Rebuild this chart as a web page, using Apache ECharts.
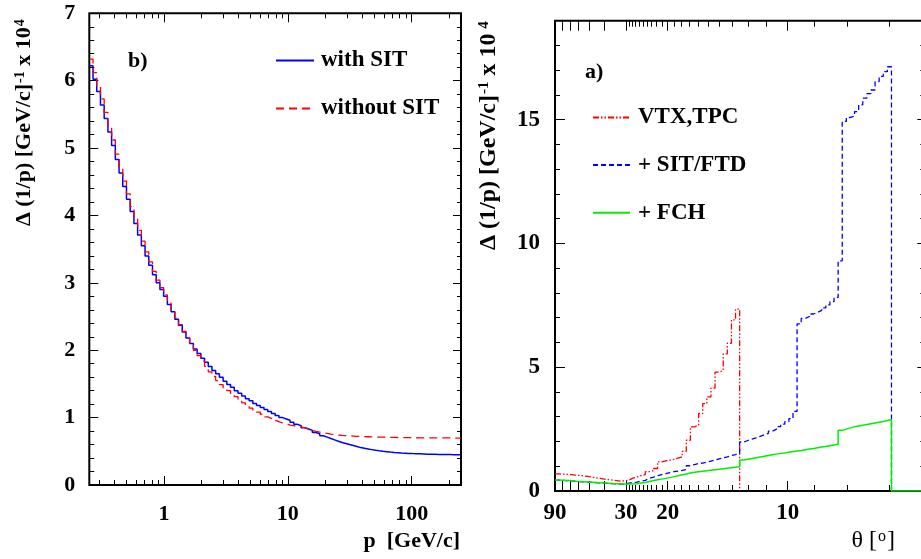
<!DOCTYPE html>
<html><head><meta charset="utf-8">
<script src="https://cdn.jsdelivr.net/npm/echarts@6/dist/echarts.min.js"></script>
<style>html,body{margin:0;padding:0;background:#fff}#c{width:921px;height:559px}</style>
</head><body><div id="c"></div>
<script>
// ---------- Panel b): Δ(1/p) vs p  (histogram bins uniform in log10 p) ----------
const pBinLog0 = -0.602;      // log10 of first bin edge (p = 0.25 GeV/c)
const pBinLogStep = 0.03;     // bin width in log10 p
const withSIT = [
  6.22,6.02,5.84,5.64,5.44,5.24,5.04,4.83,4.63,4.43,
  4.24,4.06,3.88,3.71,3.55,3.40,3.26,3.12,3.00,2.90,
  2.80,2.68,2.57,2.46,2.37,2.27,2.18,2.10,2.02,1.95,
  1.88,1.82,1.76,1.70,1.65,1.60,1.54,1.49,1.45,1.40,
  1.36,1.32,1.28,1.25,1.21,1.18,1.15,1.12,1.09,1.06,
  1.03,1.00,0.98,0.96,0.93,0.90,0.88,0.85,0.83,0.81,
  0.78,0.76,0.73,0.71,0.69,0.67,0.65,0.63,0.615,0.60,
  0.585,0.57,0.555,0.545,0.535,0.525,0.515,0.507,0.50,0.494,
  0.488,0.483,0.479,0.475,0.472,0.469,0.466,0.464,0.462,0.46,
  0.458,0.456,0.455,0.454,0.453,0.452,0.451,0.45,0.45,0.449
];
const withoutSIT = [
  6.32,6.12,5.93,5.73,5.53,5.33,5.12,4.91,4.71,4.51,
  4.32,4.13,3.95,3.78,3.62,3.46,3.31,3.17,3.04,2.93,
  2.82,2.70,2.59,2.48,2.38,2.28,2.18,2.09,2.00,1.92,
  1.84,1.76,1.68,1.61,1.55,1.49,1.44,1.40,1.35,1.31,
  1.26,1.22,1.18,1.14,1.11,1.08,1.05,1.01,0.99,0.96,
  0.94,0.92,0.91,0.89,0.88,0.87,0.86,0.85,0.83,0.81,
  0.795,0.785,0.775,0.765,0.755,0.748,0.742,0.737,0.733,0.729,
  0.726,0.723,0.72,0.718,0.716,0.714,0.712,0.71,0.709,0.708,
  0.707,0.706,0.705,0.704,0.703,0.702,0.702,0.701,0.70,0.70,
  0.70,0.70,0.699,0.699,0.698,0.698,0.698,0.697,0.697,0.697
];
const pMajorTicks = [1, 10, 100];
const pMinorTicks = [0.3,0.4,0.5,0.6,0.7,0.8,0.9,2,3,4,5,6,7,8,9,20,30,40,50,60,70,80,90,200];
const bYMajor = [0,1,2,3,4,5,6,7];
const bYMinor = [0.2,0.4,0.6,0.8,1.2,1.4,1.6,1.8,2.2,2.4,2.6,2.8,3.2,3.4,3.6,3.8,4.2,4.4,4.6,4.8,5.2,5.4,5.6,5.8,6.2,6.4,6.6,6.8];

// ---------- Panel a): Δ(1/p) vs θ  (x axis linear in cot θ, bins of 0.1 in cot θ) ----------
const cotBinStep = 0.1;
const vtxTpc = [
  0.69,0.68,0.67,0.66,0.64,0.63,0.61,0.59,0.56,0.53,
  0.51,0.48,0.46,0.44,0.42,0.40,0.41,0.44,0.52,0.57,
  0.62,0.66,0.78,0.82,0.91,1.18,1.22,1.25,1.28,1.33,
  1.38,1.60,2.05,2.59,2.66,3.13,3.53,3.80,4.16,4.80,
  4.87,5.54,5.97,6.91,7.35
];
const plusSitFtd = [
  0.44,0.43,0.42,0.41,0.39,0.38,0.37,0.36,0.35,0.34,
  0.33,0.32,0.31,0.30,0.29,0.28,0.28,0.32,0.34,0.36,
  0.40,0.43,0.51,0.56,0.62,0.66,0.70,0.74,0.78,0.80,
  0.83,0.87,1.02,1.07,1.11,1.13,1.17,1.21,1.25,1.30,
  1.34,1.38,1.43,1.47,1.52,1.98,2.04,2.10,2.15,2.21,
  2.27,2.33,2.42,2.50,2.60,2.70,2.80,2.92,3.22,6.75,
  6.97,7.05,7.15,7.22,7.30,7.40,7.52,7.65,7.82,9.30,
  14.93,15.09,15.15,15.33,15.6,15.87,16.05,16.2,16.54,16.75,
  16.94,17.14
];
const plusFch = [
  0.44,0.43,0.42,0.41,0.39,0.38,0.37,0.36,0.35,0.34,
  0.33,0.32,0.31,0.30,0.29,0.28,0.28,0.28,0.28,0.29,
  0.32,0.34,0.38,0.42,0.45,0.48,0.51,0.54,0.58,0.62,
  0.66,0.69,0.73,0.76,0.78,0.80,0.82,0.84,0.86,0.88,
  0.90,0.92,0.94,0.96,0.98,1.25,1.28,1.31,1.34,1.37,
  1.40,1.43,1.46,1.49,1.52,1.54,1.57,1.60,1.62,1.64,
  1.67,1.70,1.72,1.75,1.78,1.80,1.83,1.86,1.89,2.45,
  2.50,2.55,2.60,2.63,2.66,2.69,2.72,2.75,2.78,2.81,
  2.85,2.89,0,0,0,0,0,0,0,0
];
const thetaMajorTicks = [90,80,70,60,50,40,30,20,10];
const thetaLabels = [90,30,20,10];
const thetaMinorTicks = [29,28,27,26,25,24,23,22,21,19,18,17,16,15,14,13,12,11,9,8,7];
const aYMajor = [0,5,10,15];
const aYMinor = [1,2,3,4,6,7,8,9,11,12,13,14,16,17,18,19];

// ---------- helpers ----------
const FONT = "'Liberation Serif', 'Times New Roman', serif";
const pEdge = i => Math.pow(10, pBinLog0 + pBinLogStep * i);
const cotEdge = i => cotBinStep * i;
const cotDeg = d => 1 / Math.tan(d * Math.PI / 180);
const degFromCot = c => Math.round(Math.atan2(1, c) * 180 / Math.PI);

function hist(values, edge, drop) {
  const pts = values.map((v, i) => [edge(i), v]);
  pts.push([edge(values.length), values[values.length - 1]]);
  if (drop) pts.push([edge(values.length), 0]);
  return pts;
}
function labelStyle(size) { return {color: '#000', fontFamily: FONT, fontWeight: 'bold', fontSize: size}; }

function ax(grid, type, min, max, pos, ticks, len, labels, margin, fmt, fsize) {
  const a = {
    type: type, gridIndex: grid, min: min, max: max, position: pos,
    axisLine: {show: false, onZero: false},
    axisTick: {show: true, inside: true, length: len, customValues: ticks,
               lineStyle: {color: '#000', width: 1}},
    axisLabel: labels ? Object.assign({show: true, customValues: labels, margin: margin, formatter: fmt}, labelStyle(fsize || 22))
                      : {show: false},
    splitLine: {show: false}, minorTick: {show: false}, minorSplitLine: {show: false}
  };
  if (type === 'log') a.logBase = 10;
  return a;
}

const thetaTickVals = thetaMajorTicks.map(cotDeg);
const thetaMinorVals = thetaMinorTicks.map(cotDeg);
const thetaLabelVals = thetaLabels.map(cotDeg);

const xAxis = [
  ax(0, 'log', 0.25, 250, 'bottom', pMajorTicks, 9, pMajorTicks, 18, v => String(Math.round(v)), 22),
  ax(0, 'log', 0.25, 250, 'bottom', pMinorTicks, 5),
  ax(0, 'log', 0.25, 250, 'top', pMajorTicks, 9),
  ax(0, 'log', 0.25, 250, 'top', pMinorTicks, 5),
  ax(1, 'value', 0, 9, 'bottom', thetaTickVals, 10, thetaLabelVals, 11, v => String(degFromCot(v)), 23),
  ax(1, 'value', 0, 9, 'bottom', thetaMinorVals, 6),
  ax(1, 'value', 0, 9, 'top', thetaTickVals, 10),
  ax(1, 'value', 0, 9, 'top', thetaMinorVals, 6)
];
const yAxis = [
  ax(0, 'value', 0, 7, 'left', bYMajor, 9, bYMajor, 14, v => String(v), 22),
  ax(0, 'value', 0, 7, 'left', bYMinor, 5),
  ax(0, 'value', 0, 7, 'right', bYMajor, 8),
  ax(0, 'value', 0, 7, 'right', bYMinor, 4),
  ax(1, 'value', 0, 19, 'left', aYMajor, 10, aYMajor, 15, v => String(v), 23),
  ax(1, 'value', 0, 19, 'left', aYMinor, 5),
  ax(1, 'value', 0, 19, 'right', aYMajor, 7),
  ax(1, 'value', 0, 19, 'right', aYMinor, 4)
];

function line(name, data, xi, yi, color, type, width) {
  return {
    name: name, type: 'line', xAxisIndex: xi, yAxisIndex: yi, data: data,
    step: 'end', symbol: 'none', showSymbol: false, silent: true,
    color: color,
    lineStyle: {color: color, width: width, type: type},
    itemStyle: {color: color}
  };
}

const legendText = {color: '#000', fontFamily: FONT, fontWeight: 'bold', fontSize: 23, padding: [0, 0, 0, 2]};

const option = {
  animation: false,
  backgroundColor: '#fff',
  grid: [
    {left: 89.3, top: 13.3, width: 371.7, height: 471.7, show: true, borderColor: '#000', borderWidth: 2,
     backgroundColor: 'transparent', containLabel: false, outerBoundsMode: 'none'},
    {left: 555, top: 20.7, width: 369.3, height: 470.3, show: true, borderColor: '#000', borderWidth: 2,
     backgroundColor: 'transparent', containLabel: false, outerBoundsMode: 'none'}
  ],
  xAxis: xAxis,
  yAxis: yAxis,
  legend: [
    {orient: 'vertical', left: 275, top: 49, padding: 0, itemWidth: 38, itemHeight: 14, itemGap: 25,
     itemStyle: {opacity: 0, borderWidth: 0},
     textStyle: legendText, selectedMode: false, data: ['with SIT', 'without SIT']},
    {orient: 'vertical', left: 592, top: 106, padding: 0, itemWidth: 37, itemHeight: 14, itemGap: 24.6,
     itemStyle: {opacity: 0, borderWidth: 0},
     textStyle: Object.assign({}, legendText, {padding: [0, 0, 0, 3]}), selectedMode: false,
     data: ['VTX,TPC', '+ SIT/FTD', '+ FCH']}
  ],
  series: [
    line('with SIT', hist(withSIT, pEdge, false), 0, 0, '#0000ff', 'solid', 1.5),
    line('without SIT', hist(withoutSIT, pEdge, false), 0, 0, '#ff0000', [8, 5], 1.3),
    line('VTX,TPC', hist(vtxTpc, cotEdge, true), 4, 4, '#ff0000', [6, 2, 1.5, 2, 1.5, 2], 1.3),
    line('+ SIT/FTD', hist(plusSitFtd, cotEdge, true), 4, 4, '#0000ff', [5, 3], 1.3),
    line('+ FCH', hist(plusFch, cotEdge, false), 4, 4, '#00ee00', 'solid', 1.5)
  ],
  graphic: [
    {type: 'text', x: 128, y: 61, silent: true,
     style: {text: 'b)', fill: '#000', font: 'bold 22px ' + FONT, align: 'left', verticalAlign: 'middle'}},
    {type: 'text', x: 585, y: 72, silent: true,
     style: {text: 'a)', fill: '#000', font: 'bold 22px ' + FONT, align: 'left', verticalAlign: 'middle'}},
    {type: 'text', x: 460, y: 541, silent: true,
     style: {text: 'p  [GeV/c]', fill: '#000', font: 'bold 22px ' + FONT, align: 'right', verticalAlign: 'middle'}},
    {type: 'text', x: 895, y: 541, silent: true,
     style: {text: '{m|θ [}{s|o}{m|]}', fill: '#000', align: 'right', verticalAlign: 'middle',
       rich: {m: {fontFamily: FONT, fontSize: 24, lineHeight: 24, verticalAlign: 'bottom', fill: '#000'},
              s: {fontFamily: FONT, fontSize: 16, lineHeight: 16, padding: [0, 1, 10, 1], verticalAlign: 'top', fill: '#000'}}}},
    {type: 'text', x: 24, y: 226, rotation: Math.PI / 2, silent: true,
     style: {text: '{m|Δ (1/p) [GeV/c]}{s|-1}{m| x 10}{s|4}', fill: '#000', align: 'left', verticalAlign: 'middle',
       rich: {m: {fontFamily: FONT, fontWeight: 'bold', fontSize: 22, lineHeight: 22, verticalAlign: 'bottom', fill: '#000'},
              s: {fontFamily: FONT, fontWeight: 'bold', fontSize: 14, lineHeight: 14, padding: [0, 0, 22, 1], verticalAlign: 'top', fill: '#000'}}}},
    {type: 'text', x: 489, y: 250, rotation: Math.PI / 2, silent: true,
     style: {text: '{m|Δ (1/p) [GeV/c]}{s|-1}{m| x 10}{s| 4}', fill: '#000', align: 'left', verticalAlign: 'middle',
       rich: {m: {fontFamily: FONT, fontWeight: 'bold', fontSize: 24, lineHeight: 24, verticalAlign: 'bottom', fill: '#000'},
              s: {fontFamily: FONT, fontWeight: 'bold', fontSize: 15, lineHeight: 15, padding: [0, 0, 22, 1], verticalAlign: 'top', fill: '#000'}}}}
  ]
};

const chart = echarts.init(document.getElementById('c'), null, {renderer: 'canvas', width: 921, height: 559});
chart.setOption(option);
</script>
</body></html>
